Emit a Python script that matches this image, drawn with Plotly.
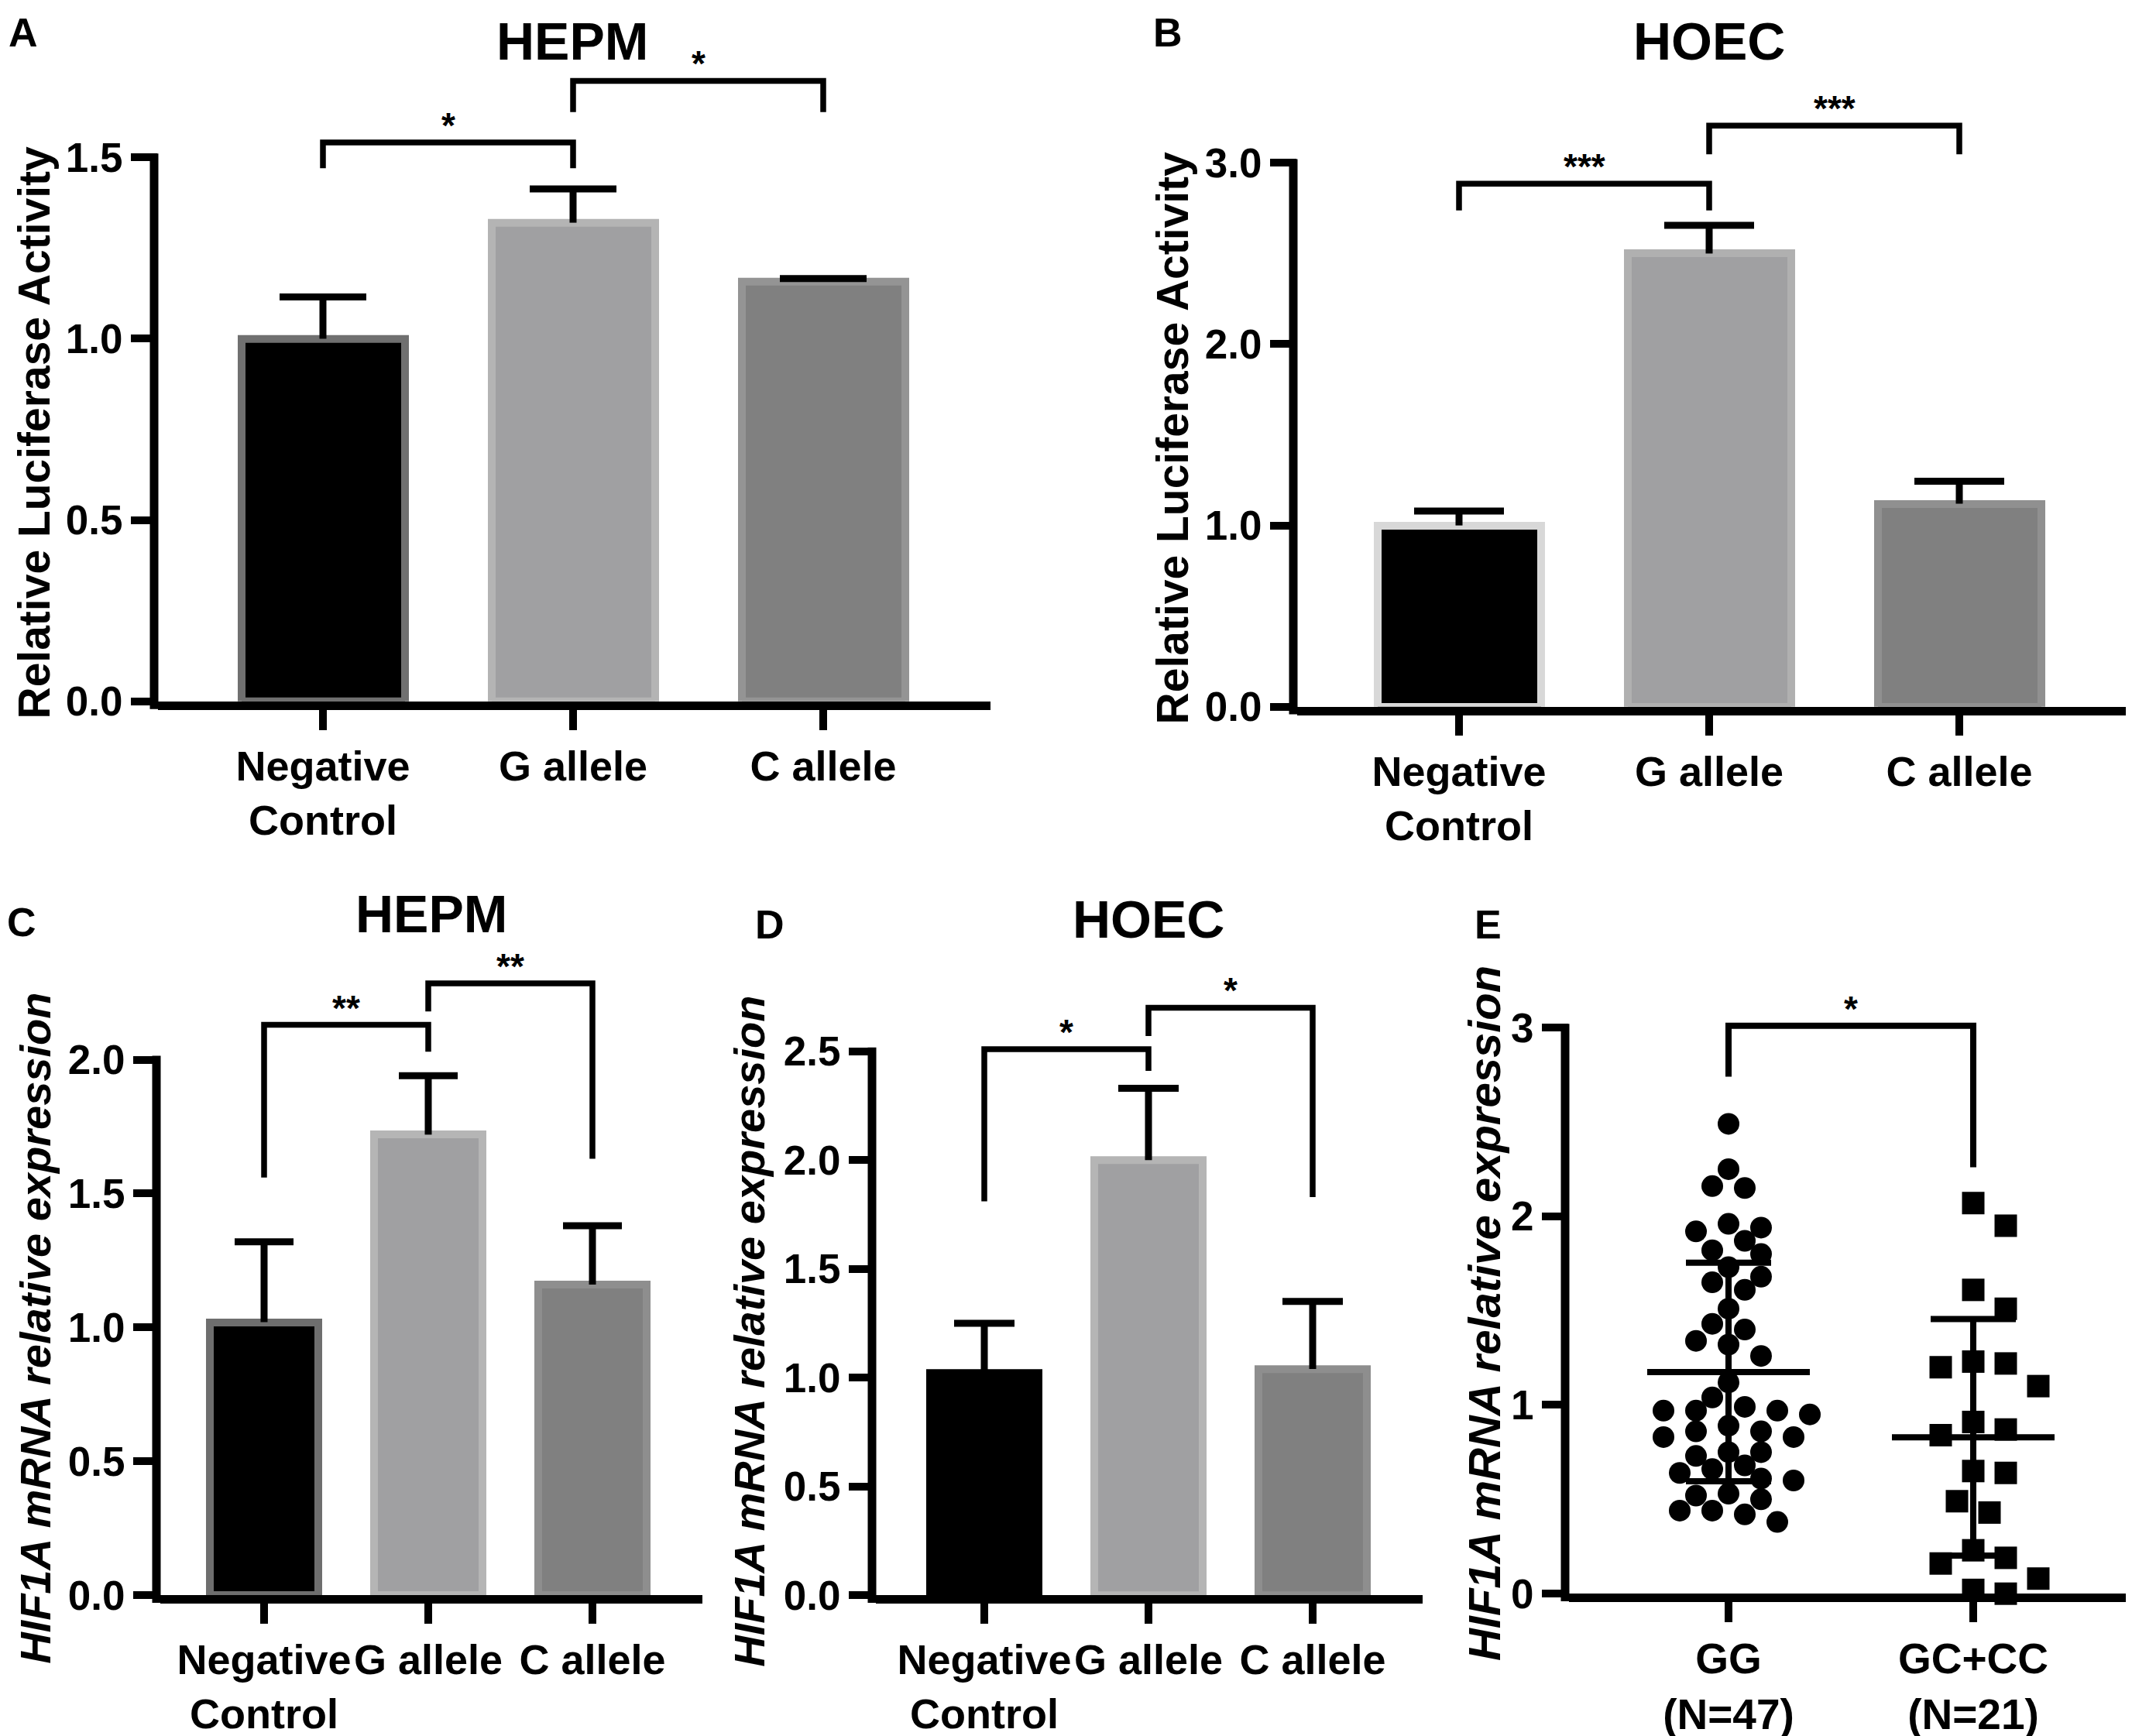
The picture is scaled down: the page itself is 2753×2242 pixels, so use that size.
import numpy as np
import plotly.graph_objects as go

W, H = 2753, 2242
FONT = "Liberation Sans, Arial, Helvetica, sans-serif"

# ---------------- data ----------------
bar_categories = ["Negative<br>Control", "G allele", "C allele"]
bar_fills = ["#000000", "#A0A0A2", "#808080"]

# A: HEPM luciferase
a_mean = [1.00, 1.32, 1.157]
a_upper = [1.115, 1.413, 1.166]
a_edge = ["#707070", "#B4B4B4", "#949494"]
a_brackets = [(0, 1, 1.541, 1.47, 1.47, "*"), (1, 2, 1.711, 1.625, 1.625, "*")]

# B: HOEC luciferase
b_mean = [1.00, 2.50, 1.12]
b_upper = [1.08, 2.656, 1.244]
b_edge = ["#D8D8D8", "#B0B0B0", "#909090"]
b_brackets = [(0, 1, 2.885, 2.738, 2.738, "***"), (1, 2, 3.206, 3.047, 3.047, "***")]

# C: HEPM HIF1A mRNA
c_mean = [1.02, 1.72, 1.16]
c_upper = [1.32, 1.94, 1.38]
c_edge = ["#6E6E6E", "#B5B5B5", "#8E8E8E"]
c_brackets = [(0, 1, 2.13, 1.56, 2.03, "**"), (1, 2, 2.285, 2.18, 1.63, "**")]

# D: HOEC HIF1A mRNA
d_mean = [1.02, 2.00, 1.04]
d_upper = [1.25, 2.33, 1.35]
d_edge = ["#000000", "#B5B5B5", "#8E8E8E"]
d_brackets = [(0, 1, 2.51, 1.81, 2.41, "*"), (1, 2, 2.70, 2.57, 1.83, "*")]

# E: genotype groups
e_categories = ["GG<br>(N=47)", "GC+CC<br>(N=21)"]
gg_values = [2.49, 2.25, 2.15, 2.16, 1.94, 1.92, 1.96, 1.87, 1.82, 1.80,
             1.73, 1.68, 1.61, 1.65, 1.51, 1.43, 1.40, 1.34, 1.32, 1.26,
             1.12, 1.04, 0.97, 0.97, 0.99, 0.95, 0.97, 0.89, 0.86, 0.83,
             0.83, 0.86, 0.75, 0.73, 0.75, 0.68, 0.66, 0.61, 0.60, 0.64,
             0.53, 0.50, 0.52, 0.44, 0.38, 0.42, 0.44]
gc_values = [2.07, 1.95, 1.61, 1.51, 1.23, 1.20, 1.22, 1.10, 0.91, 0.87,
             0.84, 0.65, 0.64, 0.49, 0.43, 0.23, 0.19, 0.16, 0.08, 0.00, 0.02]
e_brackets = [(0, 1, 3.01, 2.74, 2.26, "*")]

# ---------------- layout constants (pixels) ----------------
panels = {
    "A": dict(ax=191, right=1271, zero=915, unit=474.7, c0=409, step=323, ytop=1.8,
              yticks=[0, 0.5, 1.0, 1.5], fmt="{:.1f}", capw=56, barpx=211),
    "B": dict(ax=1662, right=2739, zero=922, unit=237.3, c0=1876, step=323, ytop=3.45,
              yticks=[0, 1.0, 2.0, 3.0], fmt="{:.1f}", capw=58, barpx=211),
    "C": dict(ax=194, right=899, zero=2085, unit=350.5, c0=333, step=212, ytop=2.45,
              yticks=[0, 0.5, 1.0, 1.5, 2.0], fmt="{:.1f}", capw=38, barpx=140),
    "D": dict(ax=1118, right=1829, zero=2085, unit=284.8, c0=1263, step=212, ytop=2.85,
              yticks=[0, 0.5, 1.0, 1.5, 2.0, 2.5], fmt="{:.1f}", capw=39, barpx=140),
    "E": dict(ax=2013, right=2753, zero=2083, unit=247.0, c0=2224, step=316, ytop=3.25,
              yticks=[0, 1, 2, 3], fmt="{:.0f}", capw=0, barpx=0),
}
AXW = 11

fig = go.Figure()
layout_axes = {}
shapes = []
annotations = []


def axis_names(i):
    s = "" if i == 1 else str(i)
    return "x" + s, "y" + s, "xaxis" + s, "yaxis" + s


def setup_axes(i, P, tick_text, tick_font=53, label_font=54):
    xr, yr, xk, yk = axis_names(i)
    base = P["zero"] - 5
    left = P["ax"] + 5
    top_px = base - P["ytop"] * P["unit"]
    xrange = [(left - P["c0"]) / P["step"], (P["right"] - P["c0"]) / P["step"]]
    layout_axes[xk] = dict(
        domain=[left / W, P["right"] / W], anchor=yr, range=xrange,
        tickmode="array", tickvals=list(range(len(tick_text))), ticktext=tick_text,
        showline=True, linewidth=AXW, linecolor="black", ticks="outside",
        ticklen=26, tickwidth=10, tickcolor="black", showgrid=False, zeroline=False,
        tickfont=dict(family=FONT, size=label_font, color="black", weight="bold"),
        fixedrange=True)
    layout_axes[yk] = dict(
        domain=[1 - base / H, 1 - top_px / H], anchor=xr, range=[0, P["ytop"]],
        tickmode="array", tickvals=P["yticks"],
        ticktext=[P["fmt"].format(v) for v in P["yticks"]],
        showline=False, ticks="outside", ticklen=34, tickwidth=10, tickcolor="black",
        showgrid=False, zeroline=False,
        tickfont=dict(family=FONT, size=tick_font, color="black", weight="bold"),
        fixedrange=True)
    ymax = max(P["yticks"])
    shapes.append(dict(type="line", xref="paper", yref="paper",
                       x0=(P["ax"]) / W, x1=(P["ax"]) / W,
                       y0=1 - (base + 10) / H,
                       y1=1 - (base - ymax * P["unit"] - 5) / H,
                       line=dict(color="black", width=AXW)))
    return xr, yr


def add_brackets(xr, yr, brackets, width=7.5):
    for (i, j, yb, yl, yrr, star) in brackets:
        fig.add_trace(go.Scatter(x=[i, i, j, j], y=[yl, yb, yb, yrr], mode="lines",
                                 line=dict(color="black", width=width),
                                 xaxis=xr, yaxis=yr, showlegend=False, hoverinfo="skip",
                                 cliponaxis=False))
        annotations.append(dict(x=(i + j) / 2, y=yb, xref=xr, yref=yr, text=star,
                                showarrow=False, yanchor="bottom", yshift=-6,
                                font=dict(family=FONT, size=46, color="black", weight="bold")))


def add_bar_panel(i, P, means, uppers, edges, brackets):
    xr, yr = setup_axes(i, P, bar_categories)
    fig.add_trace(go.Bar(
        x=list(range(len(means))), y=means, width=P["barpx"] / P["step"],
        marker=dict(color=bar_fills, line=dict(color=edges, width=10)),
        xaxis=xr, yaxis=yr, showlegend=False, hoverinfo="skip"))
    # upward-only error bars (stem + top cap)
    cw = P["capw"] / P["step"]
    ex, ey = [], []
    for k, (m, u) in enumerate(zip(means, uppers)):
        ex += [k, k, None, k - cw, k + cw, None]
        ey += [m, u, None, u, u, None]
    fig.add_trace(go.Scatter(x=ex, y=ey, mode="lines", line=dict(color="black", width=9),
                             xaxis=xr, yaxis=yr, showlegend=False, hoverinfo="skip"))
    add_brackets(xr, yr, brackets)


add_bar_panel(1, panels["A"], a_mean, a_upper, a_edge, a_brackets)
add_bar_panel(2, panels["B"], b_mean, b_upper, b_edge, b_brackets)
add_bar_panel(3, panels["C"], c_mean, c_upper, c_edge, c_brackets)
add_bar_panel(4, panels["D"], d_mean, d_upper, d_edge, d_brackets)


# ---------------- panel E: dot plot ----------------
def swarm_offsets(values, unit_y, slot=21.0, mind=29.0):
    placed = []
    res = [0.0] * len(values)
    order = sorted(range(len(values)), key=lambda k: -values[k])
    cands = [0]
    for m in range(1, 40):
        cands += [-m, m] if m % 2 else [m, -m]
    for k in order:
        y = values[k] * unit_y
        for c in cands:
            x = c * slot
            if all((x - px) ** 2 + (y - py) ** 2 >= mind ** 2 for px, py in placed):
                break
        placed.append((x, y))
        res[k] = x
    return res


PE = panels["E"]
xr, yr = setup_axes(5, PE, e_categories, tick_font=53, label_font=55)
groups = [(gg_values, "circle", 28, 26.0), (gc_values, "square", 29, 40.0)]
for gi, (vals, sym, size, mind) in enumerate(groups):
    offs = swarm_offsets(vals, PE["unit"], mind=mind)
    fig.add_trace(go.Scatter(
        x=[gi + o / PE["step"] for o in offs], y=vals, mode="markers",
        marker=dict(symbol=sym, size=size, color="black", line=dict(width=0)),
        xaxis=xr, yaxis=yr, showlegend=False, hoverinfo="skip", cliponaxis=False))
    m = float(np.mean(vals))
    sd = float(np.std(vals, ddof=1))
    hm = 105 / PE["step"]
    hc = 55 / PE["step"]
    fig.add_trace(go.Scatter(
        x=[gi - hm, gi + hm, None, gi, gi, None, gi - hc, gi + hc, None, gi - hc, gi + hc],
        y=[m, m, None, m - sd, m + sd, None, m + sd, m + sd, None, m - sd, m - sd],
        mode="lines", line=dict(color="black", width=8),
        xaxis=xr, yaxis=yr, showlegend=False, hoverinfo="skip", cliponaxis=False))
add_brackets(xr, yr, e_brackets, width=8)

# ---------------- text ----------------
def ptext(x, y, text, size, angle=0, italic=False):
    annotations.append(dict(
        x=x / W, y=1 - y / H, xref="paper", yref="paper", text=text, showarrow=False,
        textangle=angle, xanchor="center", yanchor="middle", borderpad=0,
        font=dict(family=FONT, size=size, color="black", weight="bold",
                  style="italic" if italic else "normal")))


panel_titles = [("HEPM", 731, 46), ("HOEC", 2199, 46), ("HEPM", 549, 1188), ("HOEC", 1475, 1195)]
for t, x, y in panel_titles:
    ptext(x, y, t, 68)

panel_letters = [("A", 22, 34), ("B", 1500, 34), ("C", 20, 1199), ("D", 986, 1202), ("E", 1913, 1202)]
for t, x, y in panel_letters:
    ptext(x, y, t, 52)

ytitles = [("Relative Luciferase Activity", 36, 558, 57, False),
           ("Relative Luciferase Activity", 1506, 565, 57, False),
           ("HIF1A mRNA relative expression", 38, 1731, 56, True),
           ("HIF1A mRNA relative expression", 960, 1735, 56, True),
           ("HIF1A mRNA relative expression", 1908, 1711, 58, True)]
for t, x, y, s, it in ytitles:
    ptext(x, y, t, s, angle=-90, italic=it)

fig.update_layout(
    width=W, height=H, margin=dict(l=0, r=0, t=0, b=0),
    paper_bgcolor="white", plot_bgcolor="white", showlegend=False,
    bargap=0, shapes=shapes, annotations=annotations, **layout_axes)

fig.write_html("out.html")
